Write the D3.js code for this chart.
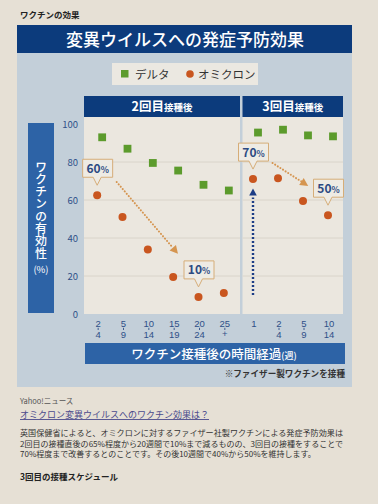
<!DOCTYPE html>
<html><head><meta charset="utf-8">
<script src="https://cdn.jsdelivr.net/npm/d3@7"></script>
<style>
html,body{margin:0;padding:0;background:#e6e0d5;}
svg{display:block;}
text{font-family:"Noto Sans CJK JP","Noto Sans",sans-serif;}
</style>
</head><body>
<svg id="c" width="378" height="504"></svg>
<script>
// ---- data ----
const cats2 = ["2-4","5-9","10-14","15-19","20-24","25+"];
const cats3 = ["1","2-4","5-9","10-14"];
const delta2 = [93, 87, 79.5, 75.5, 68, 65];
const delta3 = [95.5, 97, 94, 93.5];
const omicron2 = [62.5, 51, 34, 19.5, 9, 11];
const omicron3 = [71, 71.5, 59.5, 52];
const yTicks = [0, 20, 40, 60, 80, 100];
const gridTicks = [20, 40, 60, 80];
const callouts = [
  {sec:2, idx:0, label:"60"},
  {sec:2, idx:4, label:"10"},
  {sec:3, idx:0, label:"70"},
  {sec:3, idx:3, label:"50"}
];
const arrows = [
  {sec:2, from:"2-4", fromV:69.5, to:"15-19", toV:32.5},
  {sec:3, from:"1", fromV:79.5, to:"5-9", toV:68}
];
const boosterArrow = {cat:"1", fromV:10, toV:64};

// ---- scales ----
const svg = d3.select("#c");
const y = d3.scaleLinear().domain([0,100]).range([314,124]);
const x2 = d3.scaleBand().domain(cats2).range([87,239]);
const x3 = d3.scaleBand().domain(cats3).range([243,343]);
const cx = (sec, c) => (sec===2 ? x2(c)+x2.bandwidth()/2 : x3(c)+x3.bandwidth()/2);

const navy = "#0c3b7c", midBlue = "#2d63a6", green = "#5c9b2c", orange = "#c9561f",
      arrowOr = "#d59550", tickCol = "#2f4f88", panel = "#c3cfd9", plotBg = "#ebe7df";

// page background
svg.append("rect").attr("width",378).attr("height",504).attr("fill","#e6e0d5");

svg.append("text").attr("x",20).attr("y",18).attr("font-size",8.5).attr("font-weight",700)
  .attr("fill","#222").text("ワクチンの効果");

// panel
svg.append("rect").attr("x",17).attr("y",52).attr("width",335).attr("height",335).attr("fill",panel);
// title bar
svg.append("rect").attr("x",17).attr("y",25).attr("width",335).attr("height",28).attr("fill",navy);
svg.append("text").attr("x",185).attr("y",45.5).attr("text-anchor","middle")
  .attr("font-size",17).attr("font-weight",500).attr("fill","#fff").text("変異ウイルスへの発症予防効果");

// legend
svg.append("rect").attr("x",112).attr("y",63).attr("width",146).attr("height",22).attr("fill","#ebe8e1");
svg.append("rect").attr("x",121).attr("y",70).attr("width",7.5).attr("height",7.5).attr("fill",green);
svg.append("text").attr("x",135).attr("y",78.5).attr("font-size",11.5).attr("fill","#333").text("デルタ");
svg.append("circle").attr("cx",190).attr("cy",74).attr("r",3.8).attr("fill",orange);
svg.append("text").attr("x",198).attr("y",78.5).attr("font-size",11.5).attr("fill","#333").text("オミクロン");

// section header bars
const secs = [{sec:2, x0:84, x1:240, big:"2回目", small:"接種後"},
              {sec:3, x0:242.5, x1:343, big:"3回目", small:"接種後"}];
secs.forEach(s=>{
  svg.append("rect").attr("x",s.x0).attr("y",96).attr("width",s.x1-s.x0).attr("height",21).attr("fill",navy);
  const t = svg.append("text").attr("x",(s.x0+s.x1)/2).attr("y",111).attr("text-anchor","middle")
    .attr("fill","#fff").attr("font-weight",700);
  t.append("tspan").attr("font-size",12.5).text(s.big);
  t.append("tspan").attr("font-size",9.5).text(s.small);
});

// plot backgrounds
secs.forEach(s=>{
  svg.append("rect").attr("x",s.x0).attr("y",117).attr("width",s.x1-s.x0).attr("height",y(0)-117).attr("fill",plotBg);
});
// gridlines
secs.forEach(s=>{
  svg.append("g").selectAll("line").data(gridTicks).join("line")
    .attr("x1",s.x0).attr("x2",s.x1).attr("y1",d=>y(d)).attr("y2",d=>y(d))
    .attr("stroke","#d9d4ca").attr("stroke-width",1);
});

// y-axis label box
svg.append("rect").attr("x",28).attr("y",123).attr("width",26).attr("height",190).attr("fill",midBlue);
svg.append("text").attr("x",41).attr("y",161)
  .style("writing-mode","vertical-rl").style("text-orientation","upright")
  .attr("font-size",12).attr("letter-spacing",0.3).attr("font-weight",500).attr("fill","#fff")
  .text("ワクチンの有効性");
svg.append("text").attr("x",41).attr("y",273).attr("text-anchor","middle")
  .attr("font-size",9.5).attr("fill","#fff").text("(%)");

// y ticks
svg.append("g").selectAll("text").data(yTicks).join("text")
  .attr("x",78).attr("y",d=>y(d)+3.5).attr("text-anchor","end")
  .attr("font-size",9.5).attr("fill",tickCol).text(d=>d);

// x tick labels (stacked range labels)
function tickLabels(sec, cats){
  const g = svg.append("g");
  cats.forEach(c=>{
    const xx = cx(sec,c) - 1.5;
    let top = c, bot = null;
    if (c.includes("-")) { [top, bot] = c.split("-"); }
    else if (c.endsWith("+")) { top = c.slice(0,-1); bot = "+"; }
    g.append("text").attr("x",xx).attr("y",326.5).attr("text-anchor","middle")
      .style("font-family","'Liberation Sans',Arial,sans-serif")
      .attr("font-size",9.5).attr("fill",tickCol).text(top);
    if (bot !== null) {
      g.append("text").attr("x",xx).attr("y",bot==="+"?337:337.5).attr("text-anchor","middle")
        .style("font-family","'Liberation Sans',Arial,sans-serif")
        .attr("font-size",9.5).attr("fill",tickCol).text(bot);
      g.append("line").attr("x1",xx).attr("x2",xx).attr("y1",327.8).attr("y2",330)
        .attr("stroke",tickCol).attr("stroke-width",0.9);
    }
  });
}
tickLabels(2, cats2);
tickLabels(3, cats3);

// x title bar
svg.append("rect").attr("x",85).attr("y",343).attr("width",260).attr("height",21).attr("fill",midBlue);
const xt = svg.append("text").attr("x",214).attr("y",358.5).attr("text-anchor","middle").attr("fill","#fff").attr("font-weight",500);
xt.append("tspan").attr("font-size",12.5).text("ワクチン接種後の時間経過");
xt.append("tspan").attr("font-size",9).text("(週)");
svg.append("text").attr("x",345).attr("y",377).attr("text-anchor","end").attr("font-size",8.6)
  .attr("font-weight",700).attr("fill","#333").text("※ファイザー製ワクチンを接種");

// markers
const pts = [];
cats2.forEach((c,i)=>pts.push({sec:2,c,d:delta2[i],o:omicron2[i]}));
cats3.forEach((c,i)=>pts.push({sec:3,c,d:delta3[i],o:omicron3[i]}));
svg.append("g").selectAll("rect").data(pts).join("rect")
  .attr("x",p=>cx(p.sec,p.c)+2.5-3.9).attr("y",p=>y(p.d)-3.9)
  .attr("width",7.8).attr("height",7.8).attr("fill",green);
svg.append("g").selectAll("circle").data(pts).join("circle")
  .attr("cx",p=>cx(p.sec,p.c)-2.5).attr("cy",p=>y(p.o)).attr("r",4).attr("fill",orange);

// orange dotted arrows
arrows.forEach(a=>{
  const x0 = cx(a.sec,a.from)+17, y0 = y(a.fromV);
  const x1 = cx(a.sec,a.to)+1, y1 = y(a.toV);
  const ang = Math.atan2(y1-y0, x1-x0);
  const hx = x1 - Math.cos(ang)*6, hy = y1 - Math.sin(ang)*6;
  svg.append("line").attr("x1",x0).attr("y1",y0).attr("x2",hx).attr("y2",hy)
    .attr("stroke",arrowOr).attr("stroke-width",2).attr("stroke-dasharray","0.1,3")
    .attr("stroke-linecap","round");
  const deg = ang*180/Math.PI;
  svg.append("path").attr("d","M4,0 L-4,-4.2 L-4,4.2 Z").attr("fill",arrowOr)
    .attr("transform",`translate(${x1-Math.cos(ang)*2},${y1-Math.sin(ang)*2}) rotate(${deg})`);
});

// booster blue arrow
{
  const bx = cx(3,boosterArrow.cat)-2.5;
  svg.append("line").attr("x1",bx).attr("x2",bx).attr("y1",y(boosterArrow.fromV)).attr("y2",y(boosterArrow.toV)+5)
    .attr("stroke","#1c3d86").attr("stroke-width",2.4).attr("stroke-dasharray","2,2");
  svg.append("path").attr("d",`M${bx},${y(boosterArrow.toV)-4} L${bx-3.8},${y(boosterArrow.toV)+3} L${bx+3.8},${y(boosterArrow.toV)+3} Z`)
    .attr("fill","#1c3d86");
}

// callouts
callouts.forEach(c=>{
  const vals = c.sec===2 ? omicron2 : omicron3;
  const cats = c.sec===2 ? cats2 : cats3;
  const px = cx(c.sec,cats[c.idx])-2.5, py = y(vals[c.idx]);
  const tipY = py - 10, bb = tipY - 8, bt = bb - 18, w = 30;
  const l = px - w/2 + 0.5, r = px + w/2 + 0.5;
  svg.append("path")
    .attr("d",`M${l},${bt} L${r},${bt} L${r},${bb} L${px+4},${bb} L${px},${tipY} L${px-4},${bb} L${l},${bb} Z`)
    .attr("fill","#eeebe4").attr("stroke","#d6ad78").attr("stroke-width",1);
  const t = svg.append("text").attr("x",px+0.5).attr("y",bb-4.5).attr("text-anchor","middle")
    .attr("fill","#2c4a82").attr("font-weight",700);
  t.append("tspan").attr("font-size",12).text(c.label);
  t.append("tspan").attr("font-size",8.5).text("%");
});

// text below the chart
svg.append("text").attr("x",20).attr("y",404).attr("font-size",7.5).attr("fill","#555").text("Yahoo!ニュース");
svg.append("text").attr("x",20).attr("y",418).attr("font-size",9).attr("fill","#4a4a8c")
  .attr("text-decoration","underline").text("オミクロン変異ウイルスへのワクチン効果は？");
const para = [
  "英国保健省によると、オミクロンに対するファイザー社製ワクチンによる発症予防効果は",
  "2回目の接種直後の65%程度から20週間で10%まで減るものの、3回目の接種をすることで",
  "70%程度まで改善するとのことです。その後10週間で40%から50%を維持します。"
];
svg.append("g").selectAll("text").data(para).join("text")
  .attr("x",20).attr("y",(d,i)=>436+i*10.5).attr("font-size",8).attr("fill","#333")
  .attr("textLength",(d,i)=>i<2?323:null).attr("lengthAdjust","spacingAndGlyphs").text(d=>d);
svg.append("text").attr("x",20).attr("y",480).attr("font-size",8.5).attr("font-weight",700)
  .attr("fill","#222").text("3回目の接種スケジュール");
</script>
</body></html>
